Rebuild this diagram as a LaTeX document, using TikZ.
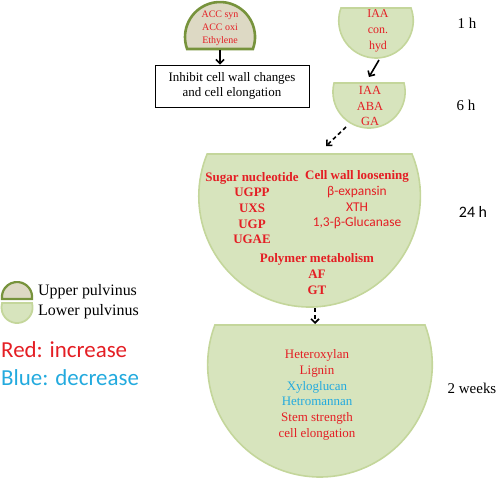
\documentclass[tikz,border=0pt]{standalone}
\usepackage{fontspec}
\setmainfont{Liberation Serif}
\newfontfamily\calfont{Carlito}
\usepackage{xcolor}
\usetikzlibrary{arrows.meta,positioning}
\definecolor{lowfill}{RGB}{215,228,189}
\definecolor{lowline}{RGB}{196,214,155}
\definecolor{upfill}{RGB}{221,217,196}
\definecolor{upline}{RGB}{119,147,60}
\definecolor{incred}{RGB}{228,30,36}
\definecolor{decblue}{RGB}{35,170,222}

\begin{document}
\begin{tikzpicture}[x=1bp,y=-1bp,
    lowpulv/.style={fill=lowfill, draw=lowline, line width=1.6bp},
    uppulv/.style={fill=upfill, draw=upline, line width=2.6bp},
    redtxt/.style={text=incred, align=center, inner sep=0pt},
    timetxt/.style={font=\fontsize{15}{18}\selectfont, inner sep=0pt},
    arr/.style={-{Straight Barb[length=4bp,width=8bp]}, line width=1.6bp}]
    \useasboundingbox (0,0) rectangle (498,481);
    % pulvinus shapes
    \draw[uppulv] (252.9,49) arc[start angle=20, end angle=-200, radius=35] -- cycle;
    \draw[lowpulv] (411,8) arc[start angle=-20, end angle=200, radius=37.25] -- cycle;
    \draw[lowpulv] (404,83) arc[start angle=-14.3, end angle=194.3, radius=36.1] -- cycle;
    \draw[lowpulv] (412,154) arc[start angle=-22.4, end angle=202.4, radius=110.8] -- cycle;
    \draw[lowpulv] (425,325) arc[start angle=-20.7, end angle=200.7, radius=112.3] -- cycle;
    \coordinate (accbot) at (220,50);
    \coordinate (h1bot) at (379,60);
    \coordinate (h6top) at (369,77);
    \coordinate (h6bot) at (346,127);
    \coordinate (h24top) at (326,146);
    \coordinate (h24bot) at (315,308);
    \coordinate (w2top) at (315,324);
    % texts
    \node[redtxt, font=\fontsize{10}{13}\selectfont] (acc) at (220,28) {ACC syn\\ACC oxi\\Ethylene};
    \node[draw, line width=0.8bp, minimum width=154bp, minimum height=42bp, align=center,
        font=\fontsize{13}{15}\selectfont] (inhibit) at (232,86) {Inhibit cell wall changes\\and cell elongation};
    \node[redtxt, font=\fontsize{12}{16}\selectfont] (iaa1) at (378,31) {IAA\\con.\\hyd};
    \node[redtxt, font=\fontsize{12.5}{16}\selectfont] (iaa6) at (370,106) {IAA\\ABA\\GA};
    \node[redtxt, font=\bfseries\fontsize{13}{15.75}\selectfont] (sugar) at (252,208) {Sugar nucleotide\\UGPP\\UXS\\UGP\\UGAE};
    \node[redtxt, font=\fontsize{13}{15.75}\selectfont] (loosen) at (357,200) {\textbf{Cell wall loosening}\\{\calfont\fontsize{13.5}{15.75}\selectfont β-expansin}\\{\calfont\fontsize{13.5}{15.75}\selectfont XTH}\\{\calfont\fontsize{13.5}{15.75}\selectfont 1,3-β-Glucanase}};
    \node[redtxt, font=\bfseries\fontsize{13}{16}\selectfont] (polymer) at (317,274) {Polymer metabolism\\AF\\GT};
    \node[redtxt, font=\fontsize{13}{15.8}\selectfont] (weeks) at (317,395) {Heteroxylan\\Lignin\\\textcolor{decblue}{Xyloglucan}\\\textcolor{decblue}{Hetromannan}\\Stem strength\\cell elongation};
    % time points
    \node[timetxt] (t1) at (467,23) {1 h};
    \node[timetxt] (t6) at (466,105) {6 h};
    \node[timetxt, font=\calfont\fontsize{16}{18}\selectfont] (t24) at (473,212) {24 h};
    \node[timetxt] (t2w) at (472,388) {2 weeks};
    % arrows
    \draw[arr] (accbot) -- (accbot |- inhibit.north);
    \draw[arr] (h1bot) -- (h6top);
    \draw[arr, dashed, dash pattern=on 4bp off 3bp] (h6bot) -- (h24top);
    \draw[arr, dashed, dash pattern=on 4bp off 3bp] (h24bot) -- (w2top);
    % legend
    \draw[uppulv, line width=2.2bp] (32,299) arc[start angle=7.2, end angle=-187.2, radius=15.1] -- cycle;
    \draw[lowpulv, line width=1.8bp] (32,303) arc[start angle=-16.4, end angle=196.4, radius=15.6] -- cycle;
    \node[anchor=west, inner sep=0pt, font=\fontsize{16}{18}\selectfont] (upper) at (38,292) {Upper pulvinus};
    \node[anchor=west, inner sep=0pt, font=\fontsize{16}{18}\selectfont] (lower) at (38,312) {Lower pulvinus};
    \node[anchor=west, inner sep=0pt, text=incred, font=\calfont\fontsize{23}{26}\selectfont] (red) at (1,350) {Red: increase};
    \node[anchor=west, inner sep=0pt, text=decblue, font=\calfont\fontsize{23}{26}\selectfont] (blue) at (1,378) {Blue: decrease};
\end{tikzpicture}
\end{document}
